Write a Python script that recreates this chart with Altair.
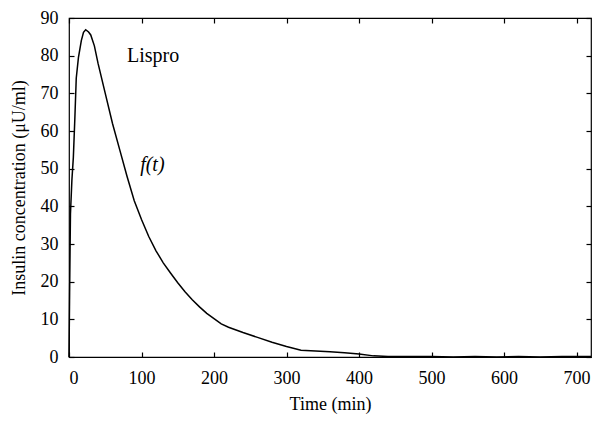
import altair as alt
import pandas as pd

time_min = [0, 1, 2, 4, 6, 8, 10, 13, 17, 20, 23, 27, 30, 35, 40, 50, 60, 70, 80, 90, 100,
            110, 120, 130, 140, 150, 160, 170, 180, 190, 200, 210, 220, 240, 260, 280,
            300, 320, 340, 360, 380, 400, 420, 440, 470, 500, 530, 560, 590, 620, 650,
            680, 700, 720]
insulin = [0, 20, 38, 47, 53, 63, 74, 79.5, 84, 86.2, 86.9, 86.3, 85.5, 82.6, 78, 70, 62, 55,
           48, 41.5, 36.5, 32, 28.2, 25, 22.3, 19.7, 17.3, 15.2, 13.3, 11.6, 10.2, 8.8,
           7.9, 6.5, 5.2, 3.9, 2.8, 1.8, 1.6, 1.4, 1.1, 0.8, 0.3, 0.1, 0.1, 0.1, 0.0,
           0.1, 0.0, 0.1, 0.0, 0.1, 0.1, 0.1]

labels_text = ["Lispro", "f(t)"]
labels_x = [116, 115]
labels_y = [80, 51]
labels_style = ["normal", "italic"]

df = pd.DataFrame({"t": time_min, "y": insulin})
lab = pd.DataFrame({"text": labels_text, "x": labels_x, "y": labels_y, "style": labels_style})

FONT = "Liberation Serif"
xs = alt.Scale(domain=[0, 720], nice=False, zero=False)
ys = alt.Scale(domain=[0, 90], nice=False)

xvals = [0, 100, 200, 300, 400, 500, 600, 700]
yvals = list(range(0, 91, 10))

line = alt.Chart(df).mark_line(color="black", strokeWidth=1.5).encode(
    x=alt.X("t:Q", scale=xs, title="Time (min)",
            axis=alt.Axis(values=xvals, offset=-5, tickSize=5, domain=False,
                          labelPadding=12, titlePadding=8, grid=False, tickColor="black",
                          labelColor="black", titleColor="black")),
    y=alt.Y("y:Q", scale=ys, title="Insulin concentration (μU/ml)",
            axis=alt.Axis(values=yvals, offset=-5, tickSize=5, domain=False,
                          labelPadding=11, titlePadding=12, grid=False, tickColor="black",
                          labelColor="black", titleColor="black")),
)

frame = alt.Chart(df).mark_line(opacity=0).encode(
    x=alt.X("t:Q", scale=xs,
            axis=alt.Axis(orient="top", values=xvals, offset=-5, tickSize=5,
                          domain=False, labels=False, title=None, grid=False,
                          tickColor="black")),
    y=alt.Y("y:Q", scale=ys,
            axis=alt.Axis(orient="right", values=yvals, offset=-5, tickSize=5,
                          domain=False, labels=False, title=None, grid=False,
                          tickColor="black")),
)

text_normal = alt.Chart(lab).transform_filter(alt.datum.style == "normal").mark_text(
    font=FONT, fontSize=20, color="black").encode(
    x=alt.X("x:Q", scale=xs, axis=None),
    y=alt.Y("y:Q", scale=ys, axis=None),
    text="text:N",
)
text_italic = alt.Chart(lab).transform_filter(alt.datum.style == "italic").mark_text(
    font=FONT, fontSize=20, color="black", fontStyle="italic").encode(
    x=alt.X("x:Q", scale=xs, axis=None),
    y=alt.Y("y:Q", scale=ys, axis=None),
    text="text:N",
)

chart = alt.layer(line, frame, text_normal, text_italic).resolve_axis(
    x="independent", y="independent").properties(
    width=522, height=339, background="white",
    autosize=alt.AutoSizeParams(type="none"),
    padding={"left": 61, "top": 10, "right": 1, "bottom": 60},
).configure_view(stroke="black", strokeWidth=1.2).configure_axis(
    labelFont=FONT, titleFont=FONT, labelFontSize=18, titleFontSize=18,
    titleFontWeight="normal", tickWidth=1.2
)

chart.save("out.html", embed_options={"renderer": "svg", "actions": False})
